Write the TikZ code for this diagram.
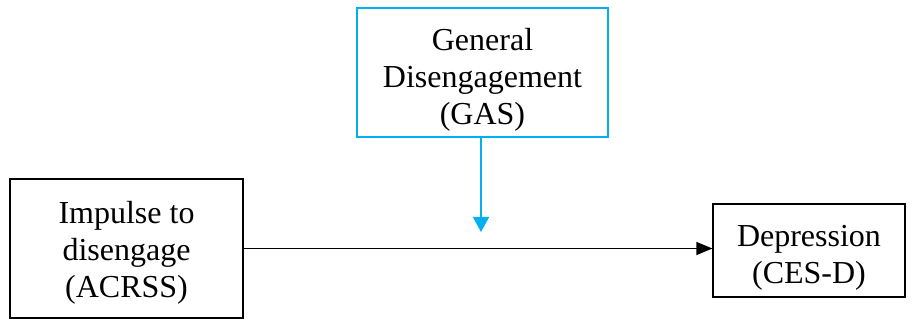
\documentclass[tikz,border=0pt]{standalone}
\usepackage{fontspec}
\setmainfont{Liberation Serif}
\usepackage{tikz}
\usetikzlibrary{positioning, arrows.meta}

\definecolor{gasblue}{HTML}{00B0F0}
% pushes the text of a box down a little
\newcommand{\toppad}[1]{\rule{0pt}{#1}}

\begin{document}
\begin{tikzpicture}[x=0.5pt, y=-0.5pt,
    varbox/.style={draw, line width=0.6pt, align=center, inner sep=0pt,
      font=\fontsize{16}{18.5}\selectfont},
    pathline/.style={line width=0.6pt, -{Triangle[length=8pt, width=6.5pt]}}]
    \useasboundingbox (0,0) rectangle (915,320);

    % Variables
    \node[varbox, draw=gasblue, minimum width=125.5pt, minimum height=64.5pt] (gas) at (482.5,72.5) {\toppad{18pt}General\\Disengagement\\(GAS)};
    \node[varbox, minimum width=116.5pt, minimum height=69.5pt] (acrss) at (126.5,248.5) {\toppad{15pt}Impulse to\\disengage\\(ACRSS)};
    \node[varbox, minimum width=96pt, minimum height=46.5pt] (cesd) at (809,250.5) {\toppad{18pt}Depression\\(CES-D)};

    % Direct path
    \draw[pathline] (acrss.east) -- (acrss.east -| cesd.west);

    % Moderation
    \coordinate (mod) at (481,232);
    \draw[pathline, gasblue, -{Triangle[length=7.5pt, width=8pt]}] (gas.south -| mod) -- (mod);
\end{tikzpicture}
\end{document}
